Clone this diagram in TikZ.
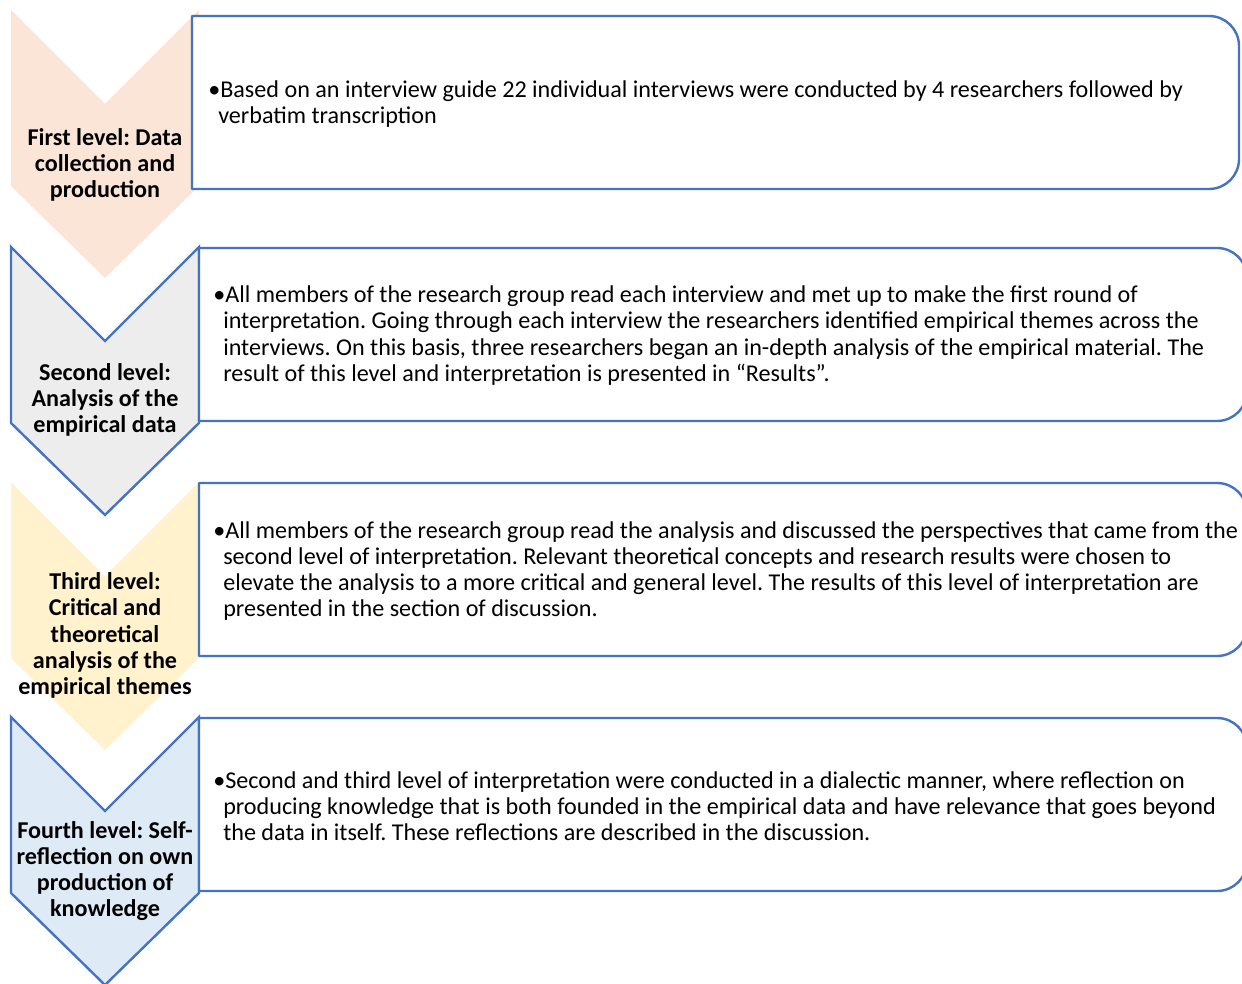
\documentclass[tikz,border=0pt]{standalone}
\usepackage{fontspec}
\setmainfont{Carlito}
\frenchspacing
\definecolor{peach}{HTML}{FBE5D6}
\definecolor{greyfill}{HTML}{EDEDED}
\definecolor{yellowfill}{HTML}{FFF2CC}
\definecolor{bluefill}{HTML}{DEEBF7}
\definecolor{edgeblue}{HTML}{4472C4}
\newcommand\chevronshape[1]{(11,#1) -- (105,#1+94) -- (199,#1) -- (199,#1+176) -- (105,#1+268) -- (11,#1+176) -- cycle}
\newcommand\roundbox[4]{(#1,#2) -- (#3-30,#2) .. controls (#3-13.4,#2) and (#3,#2+13.4) .. (#3,#2+30) -- (#3,#4-30) .. controls (#3,#4-13.4) and (#3-13.4,#4) .. (#3-30,#4) -- (#1,#4) -- cycle}
\begin{document}
\begin{tikzpicture}[x=0.75pt,y=-0.75pt,
  boxline/.style={draw=edgeblue,line width=1.8pt,fill=white,line join=round},
  chevline/.style={draw=edgeblue,line width=1.8pt,line join=miter},
  label/.style={font=\fontsize{18.1}{19.6}\selectfont\bfseries,align=center,inner sep=0pt},
  body/.style={font=\fontsize{18.1}{19.6}\selectfont,align=left,anchor=west,inner sep=0pt}]
\useasboundingbox (0,0) rectangle (1242,984);
\clip (0,0) rectangle (1242,984);
% level 1
\fill[peach] \chevronshape{10};
\draw[boxline] \roundbox{192}{16}{1239}{189};
% level 2
\fill[greyfill] \chevronshape{247};
\draw[chevline] \chevronshape{247};
\draw[boxline] \roundbox{199}{248}{1247}{421};
% level 3
\fill[yellowfill] \chevronshape{482};
\draw[boxline] \roundbox{199}{483}{1247}{656};
% level 4
\fill[bluefill] \chevronshape{717};
\draw[chevline] \chevronshape{717};
\draw[boxline] \roundbox{199}{718}{1247}{891};
% labels
\node[label] (l1) at (105,165) {First level: Data\\collection and\\production};
\node[label] (l2) at (105,400) {Second level:\\Analysis of the\\empirical data};
\node[label] (l3) at (105,635.5) {Third level:\\Critical and\\theoretical\\analysis of the\\empirical themes};
\node[label] (l4) at (105,871) {Fourth level: Self-\\reflection on own\\production of\\knowledge};
% texts
\node[body] (t1) at (208,104) {•Based on an interview guide 22 individual interviews were conducted by 4 researchers followed by\\\hspace*{7.5pt}verbatim transcription};
\node[body] (t2) at (213,335.5) {•All members of the research group read each interview and met up to make the first round of\\\hspace*{7.5pt}interpretation. Going through each interview the researchers identified empirical themes across the\\\hspace*{7.5pt}interviews. On this basis, three researchers began an in-depth analysis of the empirical material. The\\\hspace*{7.5pt}result of this level and interpretation is presented in “Results”.};
\node[body] (t3) at (213,571) {•All members of the research group read the analysis and discussed the perspectives that came from the\\\hspace*{7.5pt}second level of interpretation. Relevant theoretical concepts and research results were chosen to\\\hspace*{7.5pt}elevate the analysis to a more critical and general level. The results of this level of interpretation are\\\hspace*{7.5pt}presented in the section of discussion.};
\node[body] (t4) at (213,806) {•Second and third level of interpretation were conducted in a dialectic manner, where reflection on\\\hspace*{7.5pt}producing knowledge that is both founded in the empirical data and have relevance that goes beyond\\\hspace*{7.5pt}the data in itself. These reflections are described in the discussion.};
\end{tikzpicture}
\end{document}
